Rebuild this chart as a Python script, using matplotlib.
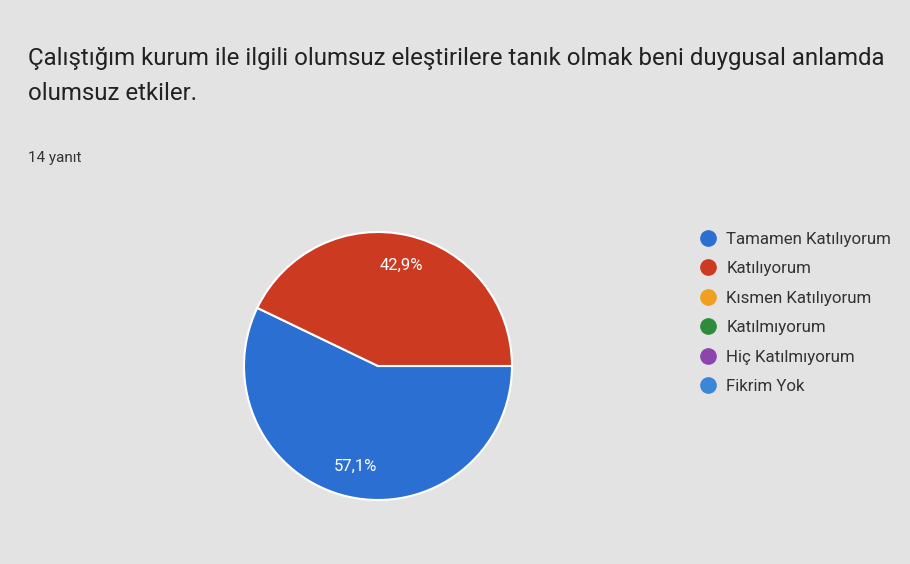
import matplotlib
matplotlib.use("Agg")
import matplotlib.pyplot as plt
from matplotlib.lines import Line2D

plt.rcParams["font.family"] = ["Roboto", "DejaVu Sans"]

# ── 데이터 ──
title_lines = ["Çalıştığım kurum ile ilgili olumsuz eleştirilere tanık olmak beni duygusal anlamda",
               "olumsuz etkiler."]
subtitle = "14 yanıt"
categories = ["Tamamen Katılıyorum", "Katılıyorum", "Kısmen Katılıyorum",
              "Katılmıyorum", "Hiç Katılmıyorum", "Fikrim Yok"]
counts = [8, 6, 0, 0, 0, 0]
colors = ["#2b6fd2", "#cc3a22", "#f0a020", "#2e8b3a", "#8e44ad", "#3b86d6"]

W, H = 910, 564
fig = plt.figure(figsize=(W / 100, H / 100), dpi=100)
fig.patch.set_facecolor("#e3e3e3")

for i, line in enumerate(title_lines):
    fig.text(28 / W, 1 - (58 + 35 * i) / H, line, fontsize=17.3,
             color="#222222", va="center", ha="left")
fig.text(28 / W, 1 - 158 / H, subtitle, fontsize=11, color="#333333",
         va="center", ha="left")

# 파이
cx, cy, r = 378, 366, 134
ax = fig.add_axes([(cx - r) / W, (H - cy - r) / H, 2 * r / W, 2 * r / H])
vals = [c for c in counts if c > 0]
cols = [colors[i] for i, c in enumerate(counts) if c > 0]
wedges, texts, autotexts = ax.pie(
    vals, colors=cols, startangle=0, counterclock=False,
    autopct=lambda p: f"{p:.1f}%".replace(".", ","), pctdistance=0.77,
    wedgeprops={"edgecolor": "white", "linewidth": 1.5},
    textprops={"color": "white", "fontsize": 12},
)
ax.set_xlim(-1, 1)
ax.set_ylim(-1, 1)
ax.set_aspect("equal")
ax.axis("off")

# 범례
handles = [Line2D([], [], marker="o", linestyle="none", markersize=11,
                  markerfacecolor=c, markeredgecolor=c) for c in colors]
leg = fig.legend(handles, categories, loc="upper left",
                 bbox_to_anchor=(700 / W, 1 - 232 / H), frameon=False,
                 fontsize=12.2, labelspacing=0.85, handletextpad=0.55,
                 handlelength=1.0, borderaxespad=0, borderpad=0)
for t in leg.get_texts():
    t.set_color("#333333")

fig.savefig("out.png", dpi=100, facecolor=fig.get_facecolor())
